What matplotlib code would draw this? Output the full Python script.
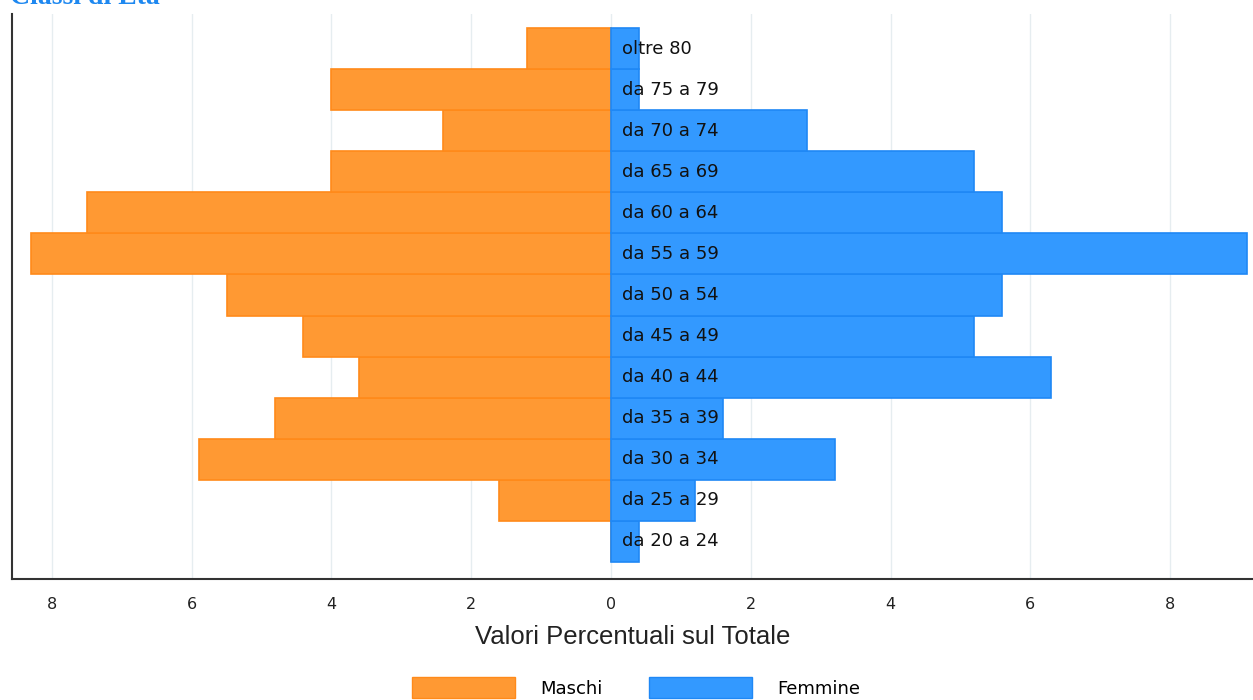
import matplotlib
matplotlib.use("Agg")
import matplotlib.pyplot as plt
from matplotlib.patches import Patch
import numpy as np

categories = ["da 20 a 24", "da 25 a 29", "da 30 a 34", "da 35 a 39", "da 40 a 44",
              "da 45 a 49", "da 50 a 54", "da 55 a 59", "da 60 a 64", "da 65 a 69",
              "da 70 a 74", "da 75 a 79", "oltre 80"]
maschi = [0.0, 1.6, 5.9, 4.8, 3.6, 4.4, 5.5, 8.3, 7.5, 4.0, 2.4, 4.0, 1.2]
femmine = [0.4, 1.2, 3.2, 1.6, 6.3, 5.2, 5.6, 9.1, 5.6, 5.2, 2.8, 0.4, 0.4]
xticks = [-8, -6, -4, -2, 0, 2, 4, 6, 8]
xticklabels = ["8", "6", "4", "2", "0", "2", "4", "6", "8"]

W, H = 1253, 700
fig = plt.figure(figsize=(W / 100, H / 100), dpi=100)
ax = fig.add_axes([12 / W, 1 - 579 / H, 1 - 12 / W, (579 - 14) / H])

y = np.arange(len(categories))
ax.barh(y, -np.array(maschi), height=1.0, color="#FF9933", edgecolor="#FF8A1A",
        linewidth=1.2, zorder=2)
ax.barh(y, femmine, height=1.0, color="#3399FF", edgecolor="#1F88F5",
        linewidth=1.2, zorder=2)

for yi, lab in zip(y, categories):
    ax.text(0.16, yi, lab, ha="left", va="center", fontsize=13,
            family="DejaVu Sans", color="#111111", zorder=3)

ax.set_xlim((12 - 611) / 69.9, (1253 - 611) / 69.9)
ax.set_ylim(-0.913, 12.84)
ax.set_xticks(xticks)
ax.set_xticklabels(xticklabels, fontsize=11.5, family="DejaVu Sans", color="#222222")
ax.set_yticks([])
ax.tick_params(axis="x", length=0, pad=13)
ax.grid(axis="x", color="#E6EDF0", linewidth=1.0, zorder=0)
ax.set_axisbelow(True)
for s in ["top", "right"]:
    ax.spines[s].set_visible(False)
ax.spines["left"].set_color("#333333")
ax.spines["bottom"].set_color("#333333")
ax.spines["left"].set_linewidth(1.5)
ax.spines["bottom"].set_linewidth(1.5)

ax.set_xlabel("Valori Percentuali sul Totale", fontsize=18.5, family="Liberation Sans",
              color="#222222", labelpad=9)

fig.text(10 / W, 1 - 4 / H, "Classi di Età", ha="left", va="baseline",
         fontsize=20, fontweight="bold", family="Liberation Serif", color="#1E88F0")

handles = [Patch(facecolor="#FF9933", edgecolor="#FF8A1A", label="Maschi"),
           Patch(facecolor="#3399FF", edgecolor="#1F88F5", label="Femmine")]
fig.legend(handles=handles, loc="upper left", bbox_to_anchor=(412 / W, 1 - 677 / H),
           ncol=2, frameon=False, handlelength=5.7, handleheight=1.45,
           handletextpad=1.4, columnspacing=2.55, borderpad=0, borderaxespad=0,
           prop={"family": "DejaVu Sans", "size": 13})

fig.savefig("out.png", dpi=100)
